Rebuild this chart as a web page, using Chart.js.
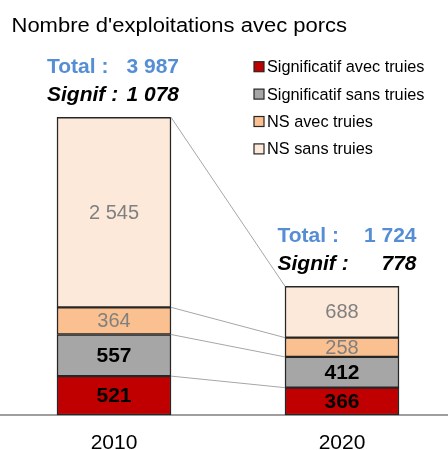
<!DOCTYPE html>
<html><head><meta charset="utf-8">
<script src="https://cdn.jsdelivr.net/npm/chart.js@4/dist/chart.umd.min.js"></script>
<style>html,body{margin:0;padding:0;background:#fff;overflow:hidden}#wrap{width:448px;height:450px;position:relative}</style>
</head><body><div id="wrap"><canvas id="c" width="448" height="450"></canvas></div>
<script>
const chartTitle = "Nombre d'exploitations avec porcs";
const years = ['2010', '2020'];
const seriesNames = ['Significatif avec truies', 'Significatif sans truies', 'NS avec truies', 'NS sans truies'];
const sigAvecTruies = [521, 366];
const sigSansTruies = [557, 412];
const nsAvecTruies = [364, 258];
const nsSansTruies = [2545, 688];
const totalLabel = 'Total :';
const signifLabel = 'Signif :';

const FONT = '"Liberation Sans", Arial, sans-serif';
const colors = ['#C00000', '#A6A6A6', '#FAC090', '#FDE9D9'];
const allSeries = [sigAvecTruies, sigSansTruies, nsAvecTruies, nsSansTruies];

function fmt(n) { return String(n).replace(/\B(?=(\d{3})+(?!\d))/g, ' '); }

const datasets = allSeries.map((vals, k) => ({
  label: seriesNames[k],
  data: vals,
  backgroundColor: colors[k],
  borderColor: '#262626',
  borderWidth: 1.5,
  borderSkipped: false,
  barThickness: 114,
  clip: false
}));

const overlay = {
  id: 'overlay',
  beforeDatasetsDraw(chart) {
    const ctx = chart.ctx;
    const yb = chart.scales.y.getPixelForValue(0);
    ctx.save();
    ctx.strokeStyle = '#404040';
    ctx.lineWidth = 1.2;
    ctx.beginPath();
    ctx.moveTo(0, yb);
    ctx.lineTo(chart.width, yb);
    ctx.stroke();
    ctx.restore();
  },
  afterDatasetsDraw(chart) {
    const ctx = chart.ctx;
    ctx.save();
    // connector lines
    ctx.strokeStyle = '#A6A6A6';
    ctx.lineWidth = 1;
    for (let d = 0; d < datasets.length; d++) {
      const m = chart.getDatasetMeta(d).data;
      const a = m[0], b = m[1];
      ctx.beginPath();
      ctx.moveTo(a.x + a.width / 2, a.y);
      ctx.lineTo(b.x - b.width / 2, b.y);
      ctx.stroke();
    }
    // value labels
    ctx.textAlign = 'center';
    ctx.textBaseline = 'middle';
    for (let d = 0; d < datasets.length; d++) {
      const m = chart.getDatasetMeta(d).data;
      m.forEach((el, i) => {
        if (d < 2) { ctx.font = 'bold 21px ' + FONT; ctx.fillStyle = '#000'; }
        else { ctx.font = '20px ' + FONT; ctx.fillStyle = '#808080'; }
        ctx.fillText(fmt(allSeries[d][i]), el.x, (el.y + el.base) / 2 + 1);
      });
    }
    // totals
    const boxes = [[-67, 65], [-64.5, 74.5]];
    years.forEach((yr, i) => {
      const top = chart.getDatasetMeta(3).data[i];
      const total = allSeries.reduce((s, arr) => s + arr[i], 0);
      const signif = sigAvecTruies[i] + sigSansTruies[i];
      const l = top.x + boxes[i][0], r = top.x + boxes[i][1];
      ctx.textBaseline = 'middle';
      ctx.font = 'bold 21px ' + FONT;
      ctx.fillStyle = '#558ED5';
      ctx.textAlign = 'left'; ctx.fillText(totalLabel, l, top.y - 50);
      ctx.textAlign = 'right'; ctx.fillText(fmt(total), r, top.y - 50);
      ctx.font = 'italic bold 21px ' + FONT;
      ctx.fillStyle = '#000';
      ctx.textAlign = 'left'; ctx.fillText(signifLabel, l, top.y - 22);
      ctx.textAlign = 'right'; ctx.fillText(fmt(signif), r, top.y - 22);
    });
    // title (slightly wide, as in the reference)
    ctx.save();
    ctx.textAlign = 'left';
    ctx.textBaseline = 'alphabetic';
    ctx.fillStyle = '#000';
    ctx.font = '20px ' + FONT;
    ctx.translate(11.5, 31.5);
    ctx.scale(1.1, 1);
    ctx.fillText(chartTitle, 0, 0);
    ctx.restore();
    // legend
    ctx.font = '16.3px ' + FONT;
    ctx.textBaseline = 'middle';
    ctx.textAlign = 'left';
    seriesNames.forEach((name, k) => {
      const cy = 66.7 + k * 27.4;
      ctx.fillStyle = colors[k];
      ctx.fillRect(254, cy - 5, 10, 10);
      ctx.strokeStyle = '#262626';
      ctx.lineWidth = 1.2;
      ctx.strokeRect(254, cy - 5, 10, 10);
      ctx.fillStyle = '#000';
      ctx.fillText(name, 267, cy + 1);
    });
    ctx.restore();
  }
};

new Chart(document.getElementById('c'), {
  type: 'bar',
  data: { labels: years, datasets },
  options: {
    responsive: false,
    animation: false,
    devicePixelRatio: 1,
    layout: { padding: { top: 116.3, left: 114, right: 106, bottom: 0 } },
    plugins: { legend: { display: false }, tooltip: { enabled: false }, title: { display: false } },
    scales: {
      x: {
        stacked: true, offset: false,
        afterFit: s => { s.height = 35; },
        ticks: { font: { size: 21, family: FONT }, color: '#000', padding: 16, autoSkip: false, maxRotation: 0 },
        grid: { display: false, drawTicks: false, offset: false },
        border: { display: false }
      },
      y: { display: false, stacked: true, min: 0, max: 4000 }
    }
  },
  plugins: [overlay]
});
</script></body></html>
